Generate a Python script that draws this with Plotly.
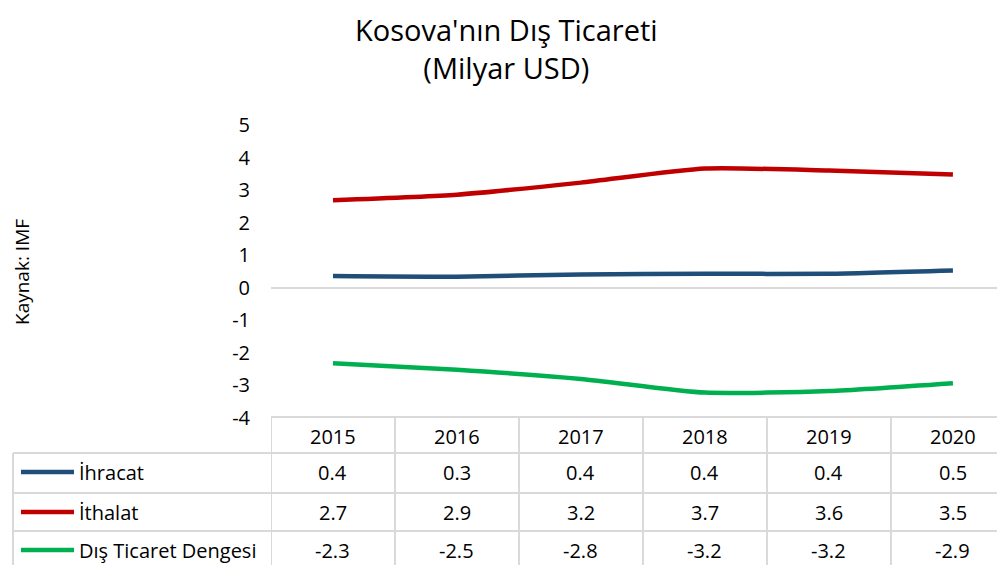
import plotly.graph_objects as go

# the page puts the figure 8px in from the top-left corner
OFF = 8
W, H = 1005 - OFF, 565 - OFF

years = ["2015", "2016", "2017", "2018", "2019", "2020"]
ihracat = [0.36, 0.34, 0.41, 0.43, 0.43, 0.53]
ithalat = [2.69, 2.86, 3.23, 3.66, 3.60, 3.48]
denge = [-2.32, -2.52, -2.80, -3.22, -3.17, -2.93]

y_ticks = [-4, -3, -2, -1, 0, 1, 2, 3, 4, 5]
y_ticktext = ["-4", "-3", "-2", "-1", "0", "1", "2", "3", "4", "5"]

series = [
    ("İhracat", ihracat, "#1F4E79"),
    ("İthalat", ithalat, "#C00000"),
    ("Dış Ticaret Dengesi", denge, "#00B050"),
]

FONT = "Open Sans"
GRID = "#D9D9D9"
TXT = 20


def px_x(px):
    """screen column -> paper x"""
    return (px - OFF) / W


def px_y(px):
    """screen row -> paper y"""
    return 1 - (px - OFF) / H


def label(x, y, text, xref="paper", size=TXT, xanchor="center", yanchor="middle", **kw):
    return dict(x=x, y=y, xref=xref, yref="paper", text=text, showarrow=False,
                xanchor=xanchor, yanchor=yanchor,
                font=dict(size=size, color="black"), **kw)


def hline(x0, x1, y, color=GRID, width=2):
    return dict(type="line", xref="paper", yref="paper", x0=px_x(x0), x1=px_x(x1),
                y0=px_y(y), y1=px_y(y), line=dict(color=color, width=width))


xs = list(range(len(years)))
fig = go.Figure()
for name, vals, color in series:
    fig.add_trace(
        go.Scatter(
            x=xs,
            y=vals,
            mode="lines",
            name=name,
            line=dict(color=color, width=4.5, shape="spline", smoothing=0.6),
        )
    )

# data table under the plot
shapes = [hline(13, 1005, yy) for yy in [453, 493, 531, 569]]
shapes.append(hline(271, 1005, 417))
shapes.append(dict(type="line", xref="paper", yref="paper", x0=px_x(13), x1=px_x(13),
                   y0=px_y(453), y1=0, line=dict(color=GRID, width=2)))
for i in range(len(years) + 1):
    shapes.append(dict(type="line", xref="x", yref="paper", x0=i - 0.5, x1=i - 0.5,
                       y0=px_y(417), y1=0, line=dict(color=GRID, width=2)))

annotations = [label(i, px_y(436), yr, xref="x") for i, yr in enumerate(years)]

row_centers = [472, 512, 550]
for (name, vals, color), yc in zip(series, row_centers):
    shapes.append(hline(21, 74, yc, color=color, width=4.5))
    annotations.append(label(px_x(77), px_y(yc), name, xanchor="left"))
    for i, v in enumerate(vals):
        annotations.append(label(i, px_y(yc), f"{v:.1f}", xref="x"))

# title and source
annotations.append(label(px_x(507), 1, "Kosova'nın Dış Ticareti<br>(Milyar USD)",
                         size=29, yanchor="top"))
annotations.append(label(px_x(22), px_y(272), "Kaynak: IMF", size=19, textangle=-90))

fig.update_layout(
    template="none",
    width=W,
    height=H,
    margin=dict(l=0, r=0, t=0, b=0, pad=0, autoexpand=False),
    paper_bgcolor="white",
    plot_bgcolor="white",
    showlegend=False,
    font=dict(family=FONT, color="black"),
    shapes=shapes,
    annotations=annotations,
    xaxis=dict(domain=[px_x(271), 1], range=[-0.5, 5.42], showticklabels=False,
               showgrid=False, zeroline=False, showline=False, ticks="",
               automargin=False, fixedrange=True),
    yaxis=dict(domain=[px_y(418), px_y(125)], range=[-4, 5], tickvals=y_ticks,
               ticktext=y_ticktext, showgrid=False, zeroline=True,
               zerolinecolor=GRID, zerolinewidth=2, showline=False, ticks="",
               automargin=False, ticklabelstandoff=20,
               tickfont=dict(size=TXT, color="black"), fixedrange=True),
)

fig.write_html("out.html")
